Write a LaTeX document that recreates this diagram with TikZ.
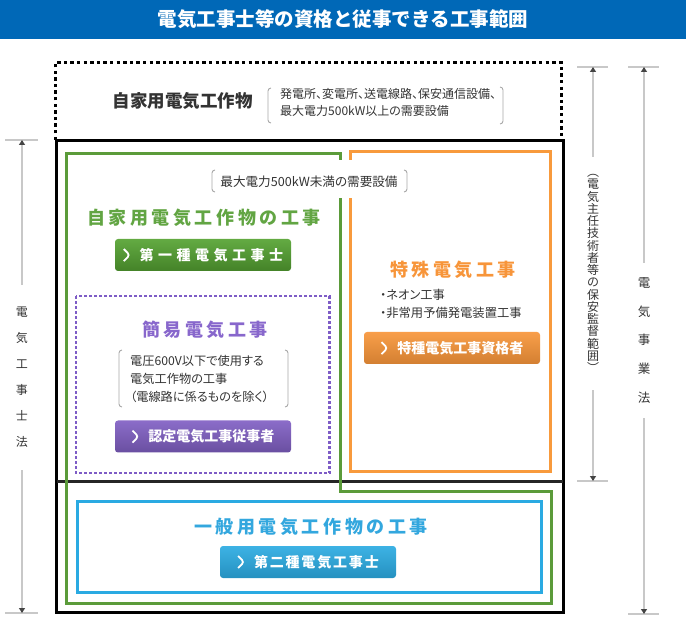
\documentclass[tikz,border=0pt]{standalone}
\usepackage{fontspec}
\setmainfont{Noto Sans CJK JP}
\newfontfamily\jphead[LetterSpace=20]{Noto Sans CJK JP}
\newfontfamily\jpsmall[RawFeature=+palt]{Noto Sans CJK JP}
\usetikzlibrary{arrows.meta}
\definecolor{titleblue}{HTML}{0068B7}
\definecolor{gline}{HTML}{5B9B3A}
\definecolor{ghead}{HTML}{62A543}
\definecolor{gbtn}{HTML}{55A332}
\definecolor{oline}{HTML}{F89A3C}
\definecolor{ohead}{HTML}{F7953A}
\definecolor{obtn}{HTML}{F8963A}
\definecolor{pline}{HTML}{7E5CC6}
\definecolor{phead}{HTML}{8867CC}
\definecolor{pbtn}{HTML}{8160C4}
\definecolor{bline}{HTML}{2AAAE2}
\definecolor{bhead}{HTML}{33A7DE}
\definecolor{bbtn}{HTML}{2CABE2}
\definecolor{txt}{HTML}{333333}
\definecolor{dimgray}{HTML}{C8C8C8}
\definecolor{tipgray}{HTML}{444444}
\definecolor{brk}{HTML}{A8A8A8}
\newcommand\chev{\tikz[baseline=-0.36em]\draw[white,line width=1.8pt] (0pt,6pt)--(6pt,0pt)--(0pt,-6pt);\hspace{9pt}}
\newcommand\vtight{\lineskiplimit=-50pt\relax}
\begin{document}
\begin{tikzpicture}[x=1pt,y=-1pt,
  heading/.style={font=\jphead\fontsize{18}{20}\selectfont\bfseries},
  small/.style={font={\jpsmall\fontsize{12}{17}\selectfont}, text=txt, inner sep=0pt},
  btnbox/.style={minimum width=176pt, minimum height=32pt, rounded corners=3pt, inner sep=0pt, text=white,
    font=\fontsize{14}{16}\selectfont\bfseries},
  bracket/.style={draw=brk, line width=0.9pt, rounded corners=3pt},
  dimline/.style={draw=dimgray, line width=1.3pt},
  dimtip/.style={-{Triangle[length=5pt,width=6pt,color=tipgray]}},
  tick/.style={draw=dimgray, line width=1.2pt},
  vlabel/.style={inner sep=0pt, align=center, text=txt}]
\useasboundingbox (0,0) rectangle (686,628);
% title
\fill[titleblue] (0,0) rectangle (686,39);
\node[text=white, font=\fontsize{19.5}{22}\selectfont\bfseries] (title) at (343,19.5) {電気工事士等の資格と従事できる工事範囲};
% outer frames
\draw[line width=3pt, dash pattern=on 3.3pt off 3.3pt] (55,140) -- (55,63) -- (561.5,63) -- (561.5,140);
\draw[line width=3pt] (56.5,140.5) rectangle (563,612.5);
\draw[line width=3pt, draw=black!85] (56.5,481) -- (563,481);
% coloured areas
\draw[gline, line width=3pt] (66.5,153.5) -- (340.5,153.5) -- (340.5,491.5) -- (551.5,491.5) -- (551.5,603) -- (66.5,603) -- cycle;
\draw[oline, line width=3pt] (350,151.5) rectangle (550,471.5);
\draw[pline, line width=2.6pt, dash pattern=on 2.6pt off 2.4pt] (76,296) rectangle (329.5,473);
\draw[bline, line width=3pt] (77,501.5) rectangle (541.5,592);
% top section text
\node[font=\fontsize{17.5}{20}\selectfont\bfseries, text=txt] (jika) at (182.5,101) {自家用電気工作物};
\node[small, anchor=west, align=left] (jikanote) at (280,102.5) {発電所、変電所、送電線路、保安通信設備、\\最大電力500kW以上の需要設備};
\draw[bracket] (271,88) -- (268,88) -- (268,123) -- (271,123);
\draw[bracket] (500,87) -- (503,87) -- (503,124) -- (500,124);
% under-500kW label with white mask
\fill[white] (208,160) rectangle (412,198);
\node[small, font={\jpsmall\fontsize{12.6}{17}\selectfont}] (lowcap) at (309,182) {最大電力500kW未満の需要設備};
\draw[bracket] (215,170) -- (212,170) -- (212,192) -- (215,192);
\draw[bracket] (404,170) -- (407,170) -- (407,192) -- (404,192);
% green area
\node[heading, text=ghead] (gh) at (204,218) {自家用電気工作物の工事};
\node[btnbox, top color=gbtn!92!white, bottom color=gbtn!80!black] (gb) at (203,255) {\chev\addfontfeature{LetterSpace=32}第一種電気工事士};
% orange area
\node[heading, text=ohead] (oh) at (453,270) {特殊電気工事};
\node[small, anchor=west, align=left, font={\jpsmall\fontsize{12.3}{18}\selectfont}] (onote) at (380,304) {・ネオン工事\\・非常用予備発電装置工事};
\node[btnbox, top color=obtn!92!white, bottom color=obtn!85!black] (ob) at (452,348) {\chev 特種電気工事資格者};
% purple area
\node[heading, text=phead] (ph) at (205,330) {簡易電気工事};
\node[small, anchor=west, align=left, font={\jpsmall\fontsize{12.2}{18}\selectfont}] (pnote) at (130,379) {電圧600V以下で使用する\\電気工作物の工事\\（電線路に係るものを除く）};
\draw[bracket] (122,350) -- (119,350) -- (119,407) -- (122,407);
\draw[bracket] (285,350) -- (288,350) -- (288,407) -- (285,407);
\node[btnbox, top color=pbtn!92!white, bottom color=pbtn!82!black] (pb) at (203,436.5) {\chev 認定電気工事従事者};
% blue area
\node[heading, text=bhead] (bh) at (311,527) {一般用電気工作物の工事};
\node[btnbox, top color=bbtn!92!white, bottom color=bbtn!85!black] (bb) at (308,562) {\chev\addfontfeature{LetterSpace=13}第二種電気工事士};
% left dimension
\draw[tick] (5,140) -- (38,140);
\draw[tick] (5,613) -- (38,613);
\coordinate (lt) at (22,140);
\coordinate (lb) at (22,613);
\node[vlabel, minimum height=185pt, font={\fontsize{12}{26}\selectfont\vtight}] (law1) at (22,377.5) {電\\気\\工\\事\\士\\法};
\draw[dimline, dimtip] (law1.north) -- (lt);
\draw[dimline, dimtip] (law1.south) -- (lb);
% right dimension 1
\draw[tick] (577,67) -- (608,67);
\draw[tick] (577,481) -- (608,481);
\coordinate (r1t) at (593,67);
\coordinate (r1b) at (593,481);
\node[vlabel, minimum height=233pt, font={\fontsize{12}{12.25}\selectfont\vtight}] (law2) at (593,273.5) {︵\\電\\気\\主\\任\\技\\術\\者\\等\\の\\保\\安\\監\\督\\範\\囲\\︶};
\draw[dimline, dimtip] (law2.north) -- (r1t);
\draw[dimline, dimtip] (law2.south) -- (r1b);
% right dimension 2
\draw[tick] (628,67) -- (659,67);
\draw[tick] (628,614) -- (659,614);
\coordinate (r2t) at (644,67);
\coordinate (r2b) at (644,614);
\node[vlabel, minimum height=155pt, font={\fontsize{12.5}{28.7}\selectfont\vtight}] (law3) at (644,340.5) {電\\気\\事\\業\\法};
\draw[dimline, dimtip] (law3.north) -- (r2t);
\draw[dimline, dimtip] (law3.south) -- (r2b);
\end{tikzpicture}
\end{document}
